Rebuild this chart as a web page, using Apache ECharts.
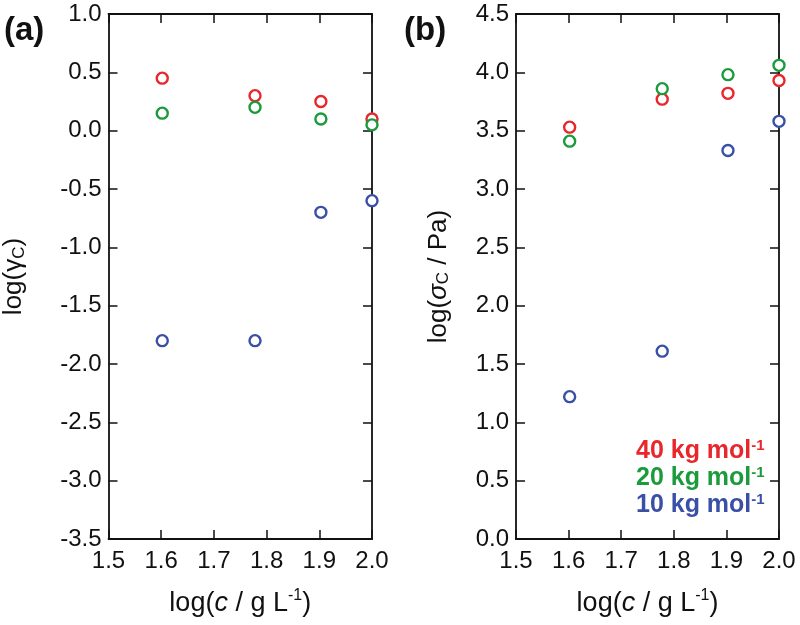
<!DOCTYPE html>
<html>
<head>
<meta charset="utf-8">
<script src="https://cdn.jsdelivr.net/npm/echarts@6/dist/echarts.min.js"></script>
<style>
  html, body { margin: 0; padding: 0; background: #fff; }
  #main { width: 800px; height: 625px; }
</style>
</head>
<body>
<div id="main"></div>
<script>
// log(c / g L-1) for 40, 60, 80, 100 g/L
const logC = [1.602, 1.778, 1.903, 2.0];
const names = ['40 kg mol-1', '20 kg mol-1', '10 kg mol-1'];
const colors = ['#e8262b', '#1b9b3c', '#3a4fa6'];

// panel (a): log(gamma_C)
const gamma40 = [0.45, 0.30, 0.25, 0.10];
const gamma20 = [0.15, 0.20, 0.10, 0.05];
const gamma10 = [-1.80, -1.80, -0.70, -0.60];

// panel (b): log(sigma_C / Pa)
const sigma40 = [3.53, 3.77, 3.82, 3.93];
const sigma20 = [3.41, 3.86, 3.98, 4.06];
const sigma10 = [1.22, 1.61, 3.33, 3.58];

const font = 'Liberation Sans, Arial, sans-serif';
const black = '#111';

function xAxisPair(grid) {
  const base = {
    gridIndex: grid, type: 'value', min: 1.5, max: 2.0, interval: 0.1,
    splitLine: { show: false },
    axisLine: { show: true, onZero: false, lineStyle: { color: black, width: 1.8 } },
    axisTick: { show: true, inside: true, length: 9, lineStyle: { color: black, width: 1.5 } }
  };
  return [
    Object.assign({}, base, {
      position: 'bottom',
      axisLabel: { fontSize: 24, color: black, fontFamily: font, margin: 10,
        formatter: v => v.toFixed(1) },
      name: '{n|log(}{i|c}{n| / g L}{s|-1}{n|)}',
      nameLocation: 'middle',
      nameGap: 49,
      nameTextStyle: {
        rich: {
          n: { fontSize: 27, color: black, fontFamily: font },
          i: { fontSize: 27, color: black, fontFamily: font, fontStyle: 'italic' },
          s: { fontSize: 16, color: black, fontFamily: font, padding: [0, 0, 15, 0] }
        }
      }
    }),
    Object.assign({}, base, { position: 'top', axisLabel: { show: false } })
  ];
}

function yAxisPair(grid, min, max, name, gap) {
  const base = {
    gridIndex: grid, type: 'value', min: min, max: max, interval: 0.5,
    splitLine: { show: false },
    axisLine: { show: true, onZero: false, lineStyle: { color: black, width: 1.8 } },
    axisTick: { show: true, inside: true, length: 9, lineStyle: { color: black, width: 1.5 } }
  };
  return [
    Object.assign({}, base, {
      position: 'left',
      axisLabel: { fontSize: 24, color: black, fontFamily: font, margin: 7,
        formatter: v => v.toFixed(1) },
      name: name,
      nameLocation: 'middle',
      nameGap: gap,
      nameTextStyle: {
        rich: {
          n: { fontSize: 26, color: black, fontFamily: font },
          i: { fontSize: 26, color: black, fontFamily: font, fontStyle: 'italic' },
          sub: { fontSize: 17, color: black, fontFamily: font, padding: [10, 0, 0, 0] }
        }
      }
    }),
    Object.assign({}, base, { position: 'right', axisLabel: { show: false } })
  ];
}

function pts(ys) {
  return logC.map((x, i) => [x, ys[i]]);
}

function scatter(name, idx, grid, ys) {
  return {
    name: name,
    type: 'scatter',
    xAxisIndex: grid * 2,
    yAxisIndex: grid * 2,
    data: pts(ys),
    symbol: 'circle',
    symbolSize: 11,
    clip: false,
    itemStyle: { color: '#fff', borderColor: colors[idx], borderWidth: 2.4, opacity: 1 },
    emphasis: { disabled: true }
  };
}

const legendKeys = { '40 kg mol-1': 'r', '20 kg mol-1': 'g', '10 kg mol-1': 'b' };
const legendRich = {};
['r', 'g', 'b'].forEach((k, i) => {
  legendRich[k] = { fontSize: 25, fontWeight: 'bold', color: colors[i], fontFamily: font };
  legendRich[k + 's'] = { fontSize: 15, fontWeight: 'bold', color: colors[i], fontFamily: font, padding: [0, 0, 12, 0] };
});

const option = {
  backgroundColor: '#fff',
  animation: false,
  grid: [
    { left: 108, top: 14, width: 264, height: 525 },
    { left: 516, top: 14, width: 263, height: 525 }
  ],
  xAxis: [...xAxisPair(0), ...xAxisPair(1)],
  yAxis: [
    ...yAxisPair(0, -3.5, 1.0, '{n|log(}{n|γ}{sub|C}{n|)}', 81),
    ...yAxisPair(1, 0, 4.5, '{n|log(}{i|σ}{sub|C}{n| / Pa)}', 64)
  ],
  legend: {
    data: names,
    orient: 'vertical',
    left: 626,
    top: 433,
    itemGap: 1,
    itemWidth: 0,
    icon: 'none',
    selectedMode: false,
    formatter: n => {
      const k = legendKeys[n];
      return '{' + k + '|' + n.replace('-1', '') + '}{' + k + 's|-1}';
    },
    textStyle: { rich: legendRich }
  },
  graphic: [
    { type: 'text', left: 4, top: 14, style: { text: '(a)', fontSize: 33, fontWeight: 'bold', fill: black, fontFamily: font } },
    { type: 'text', left: 404, top: 14, style: { text: '(b)', fontSize: 33, fontWeight: 'bold', fill: black, fontFamily: font } }
  ],
  series: [
    scatter(names[0], 0, 0, gamma40),
    scatter(names[1], 1, 0, gamma20),
    scatter(names[2], 2, 0, gamma10),
    scatter(names[0], 0, 1, sigma40),
    scatter(names[1], 1, 1, sigma20),
    scatter(names[2], 2, 1, sigma10)
  ]
};

const myChart = echarts.init(document.getElementById('main'));
myChart.setOption(option);
</script>
</body>
</html>
